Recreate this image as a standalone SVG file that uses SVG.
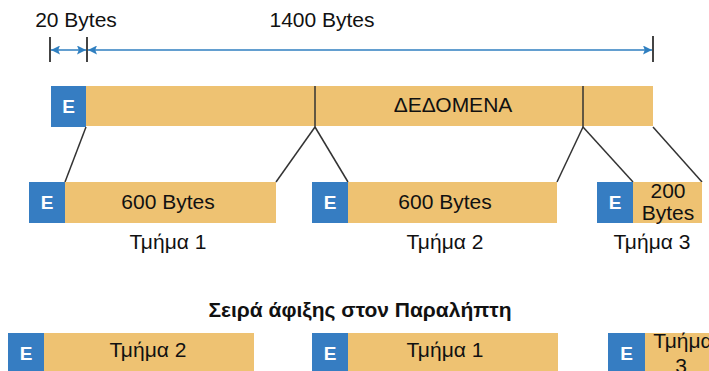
<svg xmlns="http://www.w3.org/2000/svg" width="709" height="371" viewBox="0 0 709 371">
<style>
.hdr{fill:#367dc2}
.dat{fill:#eec272}
.t{font-family:"Liberation Sans",Arial,sans-serif;font-size:21px;fill:#111;text-anchor:middle}
.e{font-family:"Liberation Sans",Arial,sans-serif;font-size:19px;font-weight:bold;fill:#fff;text-anchor:middle}
.b{font-family:"Liberation Sans",Arial,sans-serif;font-size:21px;font-weight:bold;fill:#111;text-anchor:middle}
.tick{stroke:#444;stroke-width:2}
.arr{stroke:#2f7fc0;stroke-width:1.5;fill:none}
.ln{stroke:#333;stroke-width:1.5;fill:none}
.div{stroke:#333;stroke-width:1.5}
</style>
<defs>
<marker id="ah" viewBox="0 0 10 10" refX="10" refY="5" markerWidth="9" markerHeight="9" markerUnits="userSpaceOnUse" orient="auto-start-reverse">
<path d="M0,0 L10,5 L0,10 L2,5 z" fill="#2f7fc0"/>
</marker>
</defs>

<g id="dimensions">
<line class="tick" x1="50" y1="37" x2="50" y2="62"/>
<line class="tick" x1="87" y1="37" x2="87" y2="62"/>
<line class="tick" x1="653" y1="36" x2="653" y2="62"/>
<line class="arr" x1="51" y1="50" x2="86" y2="50" marker-start="url(#ah)" marker-end="url(#ah)"/>
<line class="arr" x1="88" y1="50" x2="652" y2="50" marker-start="url(#ah)" marker-end="url(#ah)"/>
<text class="t" x="76" y="27">20 Bytes</text>
<text class="t" x="322" y="27">1400 Bytes</text>
</g>

<g id="packet">
<rect class="hdr" x="51" y="86" width="35" height="41"/>
<text class="e" x="68.5" y="113">E</text>
<rect class="dat" x="86" y="86" width="567" height="40"/>
<line class="div" x1="315" y1="86" x2="315" y2="127"/>
<line class="div" x1="583" y1="86" x2="583" y2="127"/>
<text class="t" x="453" y="112">ΔΕΔΟΜΕΝΑ</text>
</g>

<g id="connectors">
<line class="ln" x1="86" y1="127" x2="65" y2="182"/>
<line class="ln" x1="315" y1="127" x2="276" y2="182"/>
<line class="ln" x1="315" y1="127" x2="348" y2="182"/>
<line class="ln" x1="583" y1="127" x2="557" y2="182"/>
<line class="ln" x1="583" y1="127" x2="633" y2="182"/>
<line class="ln" x1="653" y1="127" x2="702" y2="182"/>
</g>

<g id="segment1">
<rect class="hdr" x="29" y="182" width="36" height="41"/>
<text class="e" x="47" y="209">E</text>
<rect class="dat" x="65" y="182" width="211" height="41"/>
<text class="t" x="168" y="209">600 Bytes</text>
<text class="t" x="168" y="249">Τμήμα 1</text>
</g>

<g id="segment2">
<rect class="hdr" x="312" y="182" width="36" height="41"/>
<text class="e" x="330" y="209">E</text>
<rect class="dat" x="348" y="182" width="209" height="41"/>
<text class="t" x="445" y="209">600 Bytes</text>
<text class="t" x="445" y="249">Τμήμα 2</text>
</g>

<g id="segment3">
<rect class="hdr" x="597" y="182" width="36" height="41"/>
<text class="e" x="615" y="209">E</text>
<rect class="dat" x="633" y="182" width="69" height="41"/>
<text class="t" x="668" y="198">200</text>
<text class="t" x="668" y="220">Bytes</text>
<text class="t" x="652" y="249">Τμήμα 3</text>
</g>

<g id="title">
<text class="b" x="360" y="317">Σειρά άφιξης στον Παραλήπτη</text>
</g>

<g id="arrival1">
<rect class="hdr" x="8" y="333" width="36" height="40"/>
<text class="e" x="26" y="360">E</text>
<rect class="dat" x="44" y="333" width="210" height="40"/>
<text class="t" x="148" y="357">Τμήμα 2</text>
</g>

<g id="arrival2">
<rect class="hdr" x="312" y="333" width="36" height="40"/>
<text class="e" x="330" y="360">E</text>
<rect class="dat" x="348" y="333" width="210" height="40"/>
<text class="t" x="445" y="357">Τμήμα 1</text>
</g>

<g id="arrival3">
<rect class="hdr" x="608" y="333" width="37" height="40"/>
<text class="e" x="626.5" y="360">E</text>
<rect class="dat" x="645" y="333" width="70" height="40"/>
<text class="t" x="683" y="348">Τμήμα</text>
<text class="t" x="681" y="373">3</text>
</g>
</svg>
